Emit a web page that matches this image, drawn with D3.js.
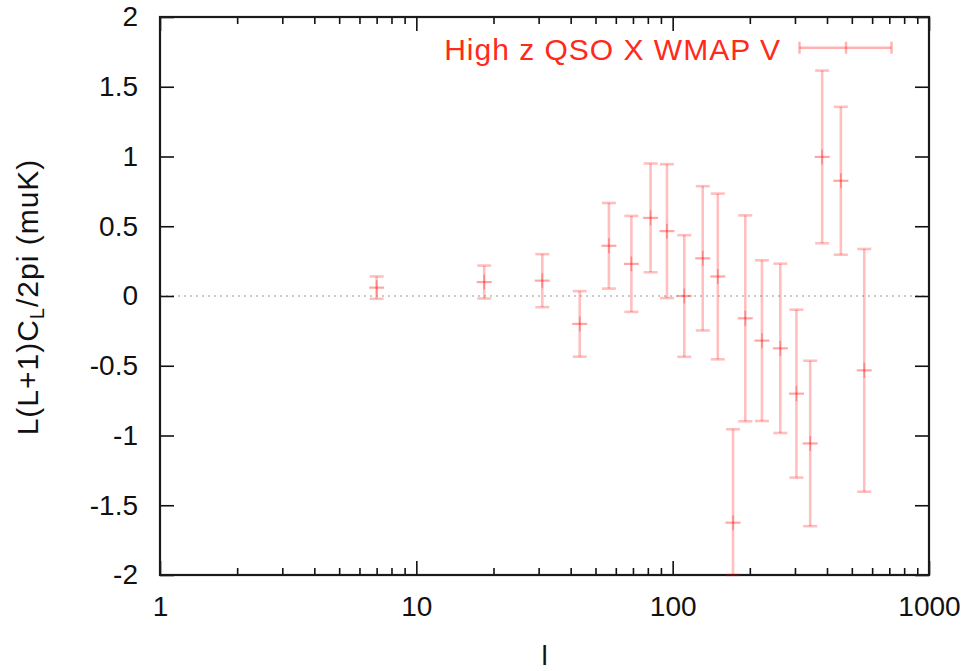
<!DOCTYPE html>
<html>
<head>
<meta charset="utf-8">
<script src="https://cdn.jsdelivr.net/npm/d3@7"></script>
<style>
  html, body { margin: 0; padding: 0; background: #fff; }
  svg { display: block; }
</style>
</head>
<body>
<svg id="chart" width="972" height="671"></svg>
<script>
// ---- data ----
const ells   = [7, 18.4, 31, 43.4, 56.4, 69, 82, 95, 111, 131, 150, 172, 192, 223, 263, 304, 344, 383, 453, 559];
const values = [0.06, 0.10, 0.11, -0.20, 0.36, 0.23, 0.56, 0.465, 0.00, 0.27, 0.14, -1.625, -0.16, -0.32, -0.375, -0.70, -1.057, 0.997, 0.826, -0.533];
const errors = [0.08, 0.118, 0.19, 0.235, 0.307, 0.344, 0.39, 0.48, 0.436, 0.517, 0.594, 0.67, 0.738, 0.576, 0.607, 0.602, 0.593, 0.619, 0.53, 0.87];
const xTickLabels = ["1", "10", "100", "1000"];
const yTickValues = [-2, -1.5, -1, -0.5, 0, 0.5, 1, 1.5, 2];
const seriesName = "High z QSO X WMAP V";
const xLabel = "l";

(function () {
// ---- layout ----
const svg = d3.select("#chart");
const pL = 160, pR = 929, pT = 17, pB = 575;
const x = d3.scaleLog().domain([1, 1000]).range([pL, pR]);
const y = d3.scaleLinear().domain([-2, 2]).range([pB, pT]).clamp(true);
const font = "'Liberation Sans', Arial, Helvetica, sans-serif";
const red = "#ff0000";

// zero line
svg.append("line")
  .attr("x1", pL).attr("x2", pR).attr("y1", y(0)).attr("y2", y(0))
  .attr("stroke", "#bbb").attr("stroke-width", 1.5).attr("stroke-dasharray", "2,4");

// ticks via axes
const yAxisL = d3.axisLeft(y).tickValues(yTickValues).tickSize(-14).tickPadding(22).tickFormat(d => String(d));
const yAxisR = d3.axisRight(y).tickValues(yTickValues).tickSize(-14).tickFormat("");
svg.append("g").attr("transform", `translate(${pL},0)`).call(yAxisL);
svg.append("g").attr("transform", `translate(${pR},0)`).call(yAxisR);

const allX = x.ticks();
const isMajor = d => Math.abs(Math.log10(d) - Math.round(Math.log10(d))) < 1e-9;
const majors = allX.filter(isMajor);
const minors = allX.filter(d => !isMajor(d));

const xAxisB = d3.axisBottom(x).tickValues(majors).tickSize(-14).tickPadding(21)
  .tickFormat((d, i) => xTickLabels[i]);
const xAxisBm = d3.axisBottom(x).tickValues(minors).tickSize(-7).tickFormat("");
const xAxisT = d3.axisTop(x).tickValues(majors).tickSize(-14).tickFormat("");
const xAxisTm = d3.axisTop(x).tickValues(minors).tickSize(-7).tickFormat("");
svg.append("g").attr("transform", `translate(0,${pB})`).call(xAxisB);
svg.append("g").attr("transform", `translate(0,${pB})`).call(xAxisBm);
svg.append("g").attr("transform", `translate(0,${pT})`).call(xAxisT);
svg.append("g").attr("transform", `translate(0,${pT})`).call(xAxisTm);

svg.selectAll(".domain").remove();
svg.selectAll(".tick line").attr("stroke", "#111").attr("stroke-width", 1.6);
svg.selectAll(".tick text").attr("fill", "#111").attr("font-family", font).attr("font-size", 28);

// frame
svg.append("rect").attr("x", pL).attr("y", pT).attr("width", pR - pL).attr("height", pB - pT)
  .attr("fill", "none").attr("stroke", "#1a1a1a").attr("stroke-width", 2.2);

// error bars
const data = ells.map((l, i) => ({ l, v: values[i], e: errors[i] }));
const g = svg.append("g");
const cap = 7, arm = 7.5;
const pts = g.selectAll("g.pt").data(data).join("g").attr("class", "pt");
pts.append("line")
  .attr("x1", d => x(d.l)).attr("x2", d => x(d.l))
  .attr("y1", d => y(d.v - d.e)).attr("y2", d => y(d.v + d.e))
  .attr("stroke", red).attr("stroke-opacity", 0.25).attr("stroke-width", 2.6);
pts.append("line")
  .attr("x1", d => x(d.l) - cap).attr("x2", d => x(d.l) + cap)
  .attr("y1", d => y(d.v - d.e)).attr("y2", d => y(d.v - d.e))
  .attr("stroke", red).attr("stroke-opacity", 0.25).attr("stroke-width", 2.6);
pts.append("line")
  .attr("x1", d => x(d.l) - cap).attr("x2", d => x(d.l) + cap)
  .attr("y1", d => y(d.v + d.e)).attr("y2", d => y(d.v + d.e))
  .attr("stroke", red).attr("stroke-opacity", 0.25).attr("stroke-width", 2.6);
// point marker "+"
pts.append("line")
  .attr("x1", d => x(d.l) - arm).attr("x2", d => x(d.l) + arm)
  .attr("y1", d => y(d.v)).attr("y2", d => y(d.v))
  .attr("stroke", red).attr("stroke-opacity", 0.35).attr("stroke-width", 2.2);
pts.append("line")
  .attr("x1", d => x(d.l)).attr("x2", d => x(d.l))
  .attr("y1", d => y(d.v) - arm).attr("y2", d => y(d.v) + arm)
  .attr("stroke", red).attr("stroke-opacity", 0.3).attr("stroke-width", 1.6);

// legend
const legY = 47.7, lx1 = 799.5, lx2 = 891.5, lxm = 846;
svg.append("text").attr("x", 781).attr("y", 59.5).attr("text-anchor", "end")
  .attr("font-family", font).attr("font-size", 30).attr("letter-spacing", "1px")
  .attr("fill", "#ff2a1a").text(seriesName);
const lg = svg.append("g").attr("stroke", red).attr("stroke-opacity", 0.3).attr("stroke-width", 2.4);
lg.append("line").attr("x1", lx1).attr("x2", lx2).attr("y1", legY).attr("y2", legY);
lg.append("line").attr("x1", lx1).attr("x2", lx1).attr("y1", legY - 6).attr("y2", legY + 6);
lg.append("line").attr("x1", lx2).attr("x2", lx2).attr("y1", legY - 6).attr("y2", legY + 6);
lg.append("line").attr("x1", lxm).attr("x2", lxm).attr("y1", legY - 6).attr("y2", legY + 6);

// axis labels
svg.append("text").attr("x", (pL + pR) / 2).attr("y", 665).attr("text-anchor", "middle")
  .attr("font-family", font).attr("font-size", 28).attr("fill", "#111").text(xLabel);

const yl = svg.append("text").attr("transform", "translate(38,297) rotate(-90)")
  .attr("text-anchor", "middle").attr("font-family", font).attr("font-size", 30)
  .attr("letter-spacing", "1px").attr("fill", "#111");
yl.append("tspan").text("L(L+1)C");
yl.append("tspan").attr("font-size", 20).attr("dy", 6).text("L");
yl.append("tspan").attr("dy", -6).text("/2pi (muK)");
})();
</script>
</body>
</html>
